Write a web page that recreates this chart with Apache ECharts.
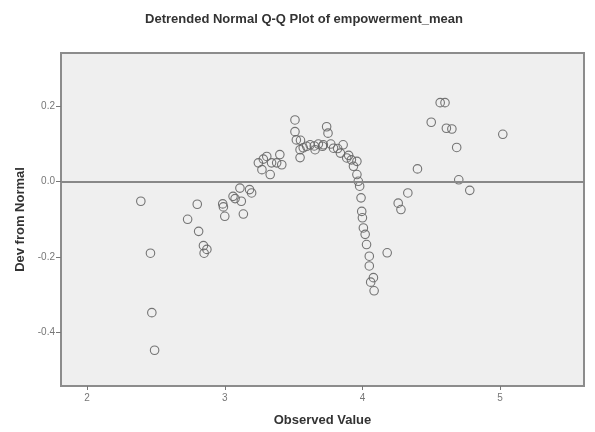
<!DOCTYPE html>
<html>
<head>
<meta charset="utf-8">
<script src="https://cdn.jsdelivr.net/npm/echarts@6/dist/echarts.min.js"></script>
<style>
  html, body { margin: 0; padding: 0; background: #fff; }
  #chart { width: 595px; height: 432px; }
</style>
</head>
<body>
<div id="chart"></div>
<script>
const observed = [
  2.39, 2.46, 2.47, 2.49, 2.73, 2.80, 2.81, 2.845, 2.87, 2.85,
  2.985, 2.99, 3.00, 3.135, 3.06, 3.075, 3.11, 3.12, 3.18, 3.195,
  3.244, 3.27, 3.305, 3.33, 3.377, 3.40, 3.414, 3.28, 3.34,
  3.51, 3.51, 3.52, 3.547, 3.547, 3.595, 3.656, 3.62, 3.71, 3.74,
  3.75, 3.716, 3.79, 3.86, 3.84, 3.886, 3.92, 3.96, 3.935, 3.96,
  3.57, 3.68, 3.77, 3.82, 3.90, 3.55, 3.65,
  3.97, 3.98, 3.99, 3.995, 4.00, 4.007, 4.02, 4.03, 4.05, 4.05,
  4.08, 4.06, 4.085, 4.18, 4.26, 4.28, 4.33, 4.40, 4.50, 4.565,
  4.60, 4.61, 4.65, 4.685, 4.70, 4.78, 5.02
];
const devFromNormal = [
  -0.052, -0.19, -0.348, -0.448, -0.10, -0.06, -0.132, -0.17, -0.18, -0.19,
  -0.059, -0.067, -0.092, -0.086, -0.039, -0.045, -0.017, -0.052, -0.021, -0.03,
  0.05, 0.032, 0.067, 0.019, 0.05, 0.072, 0.045, 0.06, 0.05,
  0.164, 0.133, 0.111, 0.085, 0.064, 0.094, 0.085, 0.098, 0.094, 0.146,
  0.129, 0.098, 0.089, 0.098, 0.076, 0.063, 0.058, 0.054, 0.041, 0.019,
  0.09, 0.10, 0.10, 0.088, 0.07, 0.11, 0.095,
  0.001, -0.012, -0.043, -0.079, -0.096, -0.123, -0.14, -0.167, -0.198, -0.224,
  -0.255, -0.267, -0.29, -0.189, -0.057, -0.074, -0.03, 0.034, 0.158, 0.21,
  0.21, 0.142, 0.14, 0.091, 0.005, -0.023, 0.126
];
const xTicks = [2, 3, 4, 5];
const yTicks = [-0.4, -0.2, 0.0, 0.2];

const points = observed.map((x, i) => [x, devFromNormal[i]]);

const chart = echarts.init(document.getElementById("chart"));
chart.setOption({
  animation: false,
  backgroundColor: "#fff",
  title: {
    text: "Detrended Normal Q-Q Plot of empowerment_mean",
    left: 299,
    top: 8,
    textAlign: "center",
    textStyle: { fontFamily: "Liberation Sans", fontSize: 13, fontWeight: "bold", color: "#333" },
  },
  grid: {
    left: 61,
    right: 11,
    top: 53,
    bottom: 45,
    show: true,
    backgroundColor: "#efefef",
    borderColor: "#8c8c8c",
    borderWidth: 2,
  },
  xAxis: {
    type: "value",
    min: 1.81,
    max: 5.61,
    name: "Observed Value",
    nameLocation: "middle",
    nameGap: 28,
    nameTextStyle: { fontFamily: "Liberation Sans", fontSize: 13, fontWeight: "bold", color: "#333" },
    splitLine: { show: false },
    axisLine: { show: true, onZero: false, lineStyle: { color: "#8c8c8c", width: 2 } },
    axisTick: { show: true, length: 4, customValues: xTicks, lineStyle: { color: "#777" } },
    axisLabel: {
      customValues: xTicks,
      fontFamily: "Liberation Sans",
      fontSize: 10,
      color: "#777",
      margin: 7,
    },
  },
  yAxis: {
    type: "value",
    min: -0.543,
    max: 0.342,
    name: "Dev from Normal",
    nameLocation: "middle",
    nameGap: 32,
    nameTextStyle: { fontFamily: "Liberation Sans", fontSize: 13, fontWeight: "bold", color: "#333" },
    splitLine: { show: false },
    axisLine: { show: true, onZero: false, lineStyle: { color: "#8c8c8c", width: 2 } },
    axisTick: { show: true, length: 5, customValues: yTicks, lineStyle: { color: "#777" } },
    axisLabel: {
      customValues: yTicks,
      formatter: (v) => v.toFixed(1),
      fontFamily: "Liberation Sans",
      fontSize: 10,
      color: "#777",
      margin: 6,
    },
  },
  series: [
    {
      type: "scatter",
      data: points,
      symbol: "circle",
      symbolSize: 8.5,
      itemStyle: { color: "rgba(0,0,0,0)", borderColor: "#666", borderWidth: 1.1, opacity: 0.9 },
      markLine: {
        silent: true,
        symbol: "none",
        label: { show: false },
        lineStyle: { color: "#888", width: 2, type: "solid" },
        data: [{ yAxis: 0 }],
      },
      z: 3,
    },
  ],
});
</script>
</body>
</html>
